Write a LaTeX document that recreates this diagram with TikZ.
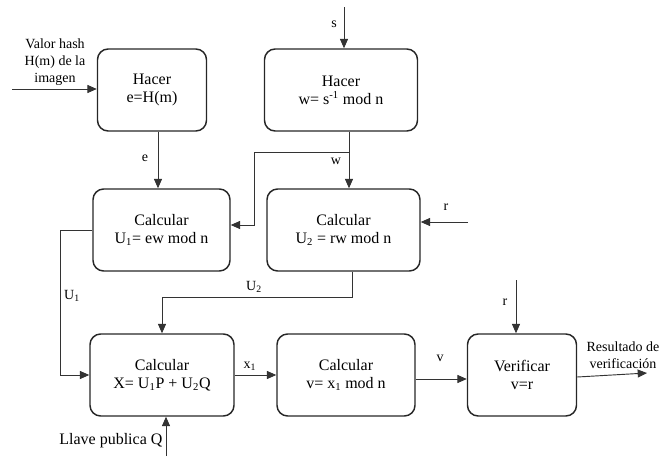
\documentclass[tikz,border=0pt]{standalone}
\usepackage{fontspec}
\setmainfont{Liberation Serif}
\usetikzlibrary{arrows.meta}

\begin{document}
\begin{tikzpicture}[
  x=0.75pt, y=-0.75pt,
  every node/.style={font=\fontsize{12}{13.5}\selectfont},
  blk/.style={draw=black!85, line width=1.1pt, rectangle, rounded corners=8pt,
              minimum height=61.5pt, align=center, inner sep=2pt},
  arr/.style={draw=black!80, line width=0.7pt, -{Triangle[length=7pt,width=6pt]}},
  lbl/.style={font=\fontsize{10.5}{12.75}\selectfont, align=center, inner sep=1pt},
]
\useasboundingbox (0,0) rectangle (663,457);

%% ── Top row ──────────────────────────────────────────────────────────────────
\node[blk, minimum width=81.75pt] (hacere) at (152, 90) {Hacer\\e=H(m)};
\node[blk, minimum width=114.75pt] (hacerw) at (341, 90) {Hacer\\w= s\textsuperscript{-1} mod n};

\coordinate (hashin) at (12, 89);
\draw[arr] (hashin) -- (hashin -| hacere.west);
\node[lbl] (hashlbl) at (55, 62) {Valor hash\\H(m) de la\\imagen};

\coordinate (sin) at (344, 7);
\draw[arr] (sin) -- (sin |- hacerw.north);
\node[lbl] (slbl) at (334, 24) {s};

%% ── Middle row ───────────────────────────────────────────────────────────────
\node[blk, minimum width=102.75pt] (calcu1) at (161.5, 230) {Calcular\\U\textsubscript{1}= ew mod n};
\node[blk, minimum width=114.75pt] (calcu2) at (343.5, 230) {Calcular\\U\textsubscript{2} = rw mod n};

%% e
\coordinate (ecol) at (158, 0);
\draw[arr] (ecol |- hacere.south) -- (ecol |- calcu1.north);
\node[lbl] (elbl) at (145, 158) {e};

%% w (split)
\coordinate (wsplit) at (349, 152);
\coordinate (wbend) at (254, 152);
\draw[arr] (wsplit |- hacerw.south) -- (wsplit |- calcu2.north);
\draw[arr] (wsplit) -- (wbend) |- ([yshift=3.75pt]calcu1.east);
\node[lbl] (wlbl) at (336, 161) {w};

%% r
\coordinate (rin) at (468, 222);
\draw[arr] (rin) -- (rin -| calcu2.east);
\node[lbl] (rlbl) at (446, 207) {r};

%% ── Bottom row ───────────────────────────────────────────────────────────────
\node[blk, minimum width=108pt] (calcX) at (162, 375) {Calcular\\X= U\textsubscript{1}P + U\textsubscript{2}Q};
\node[blk, minimum width=103.5pt] (calcv) at (346, 375) {Calcular\\v= x\textsubscript{1} mod n};
\node[blk, minimum width=81.75pt] (verif) at (522, 375) {Verificar\\v=r};

%% U1
\draw[arr] ([yshift=0pt]calcu1.west) -- ++(-24pt, 0) |- (calcX.west);
\node[lbl] (u1lbl) at (72, 296) {U\textsubscript{1}};

%% U2
\coordinate (u2row) at (0, 297);
\draw[arr] ([xshift=6.4pt]calcu2.south) -- ([xshift=6.4pt]calcu2.south |- u2row) -| (calcX.north);
\node[lbl] (u2lbl) at (254, 287) {U\textsubscript{2}};

%% Llave publica Q
\coordinate (qin) at (166, 456);
\draw[arr] (qin) -- (qin |- calcX.south);
\node[anchor=east, inner sep=1pt] (qlbl) at (164, 441) {Llave publica Q};

%% x1, v
\draw[arr] (calcX.east) -- (calcv.west);
\node[lbl] (x1lbl) at (250, 366) {x\textsubscript{1}};
\draw[arr] ([yshift=-3pt]calcv.east) -- ([yshift=-3pt]verif.west);
\node[lbl] (vlbl) at (440, 358) {v};

%% r into verification
\coordinate (rin2) at (516, 280);
\draw[arr] (rin2) -- (rin2 |- verif.north);
\node[lbl] (r2lbl) at (505, 302) {r};

%% result
\coordinate (resout) at (647, 373);
\draw[arr] ([yshift=-1.5pt]verif.east) -- (resout);
\node[lbl] (reslbl) at (623, 355) {Resultado de\\verificación};

\end{tikzpicture}
\end{document}
